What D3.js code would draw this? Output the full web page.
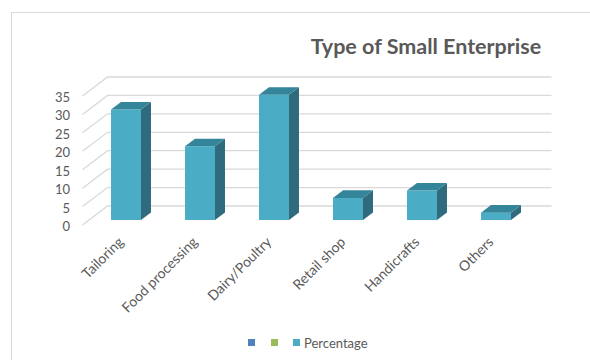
<!DOCTYPE html>
<html><head><meta charset="utf-8">
<script src="https://cdn.jsdelivr.net/npm/d3@7"></script>
<style>
html,body{margin:0;padding:0;background:#fff;}
svg{display:block;font-family:Lato,"Open Sans",sans-serif;}
</style></head>
<body>
<svg id="chart" width="590" height="360"></svg>
<script>
const title = "Type of Small Enterprise";
const categories = ["Tailoring","Food processing","Dairy/Poultry","Retail shop","Handicrafts","Others"];
const percentage = [30, 20, 34, 6, 8, 2];
const yTicks = [0, 5, 10, 15, 20, 25, 30, 35];
const legendNames = ["", "", "Percentage"];
const legendColors = ["#4F81BD", "#9BBB59", "#4BACC6"];

const svg = d3.select("#chart");
const textColor = "#595959";

// chart border
svg.append("path").attr("d", "M11.5,362 V12.5 H592")
  .attr("fill", "none").attr("stroke", "#d9d9d9").attr("stroke-width", 1);

// 3D projection frame
const ox = 82.5, oy = 225;          // front-left corner of floor
const depthDX = 25, depthDY = -19;  // depth vector
const plotW = 444;
const y = d3.scaleLinear().domain([0, 35]).range([0, 129]);
const x = d3.scaleBand().domain(categories).range([0, plotW])
  .paddingInner(0.595).paddingOuter(0.2975);
const P = (px, v, z) => [ox + px + depthDX * z, oy - y(v) + depthDY * z];

const grid = svg.append("g");
yTicks.forEach(t => {
  const a = P(0, t, 0), b = P(0, t, 1), c = P(plotW, t, 1);
  grid.append("path")
    .attr("d", `M${a[0]},${a[1]} L${b[0]},${b[1]} L${c[0]},${c[1]}`)
    .attr("fill", "none").attr("stroke", "#d9d9d9").attr("stroke-width", 1.3);
  svg.append("text").attr("x", 70).attr("y", a[1] + 1)
    .attr("text-anchor", "end").attr("dominant-baseline", "central")
    .attr("fill", textColor).attr("font-size", 13).text(t);
});

// bars
const zf = 0.26, zb = 0.66;
const bars = svg.append("g");
categories.forEach((cat, i) => {
  const v = percentage[i];
  const x0 = x(cat), x1 = x(cat) + x.bandwidth();
  const fbl = P(x0, 0, zf), fbr = P(x1, 0, zf), ftl = P(x0, v, zf), ftr = P(x1, v, zf);
  const bbr = P(x1, 0, zb), btl = P(x0, v, zb), btr = P(x1, v, zb);
  const poly = pts => "M" + pts.map(p => p.join(",")).join("L") + "Z";
  bars.append("path").attr("d", poly([fbl, fbr, ftr, ftl])).attr("fill", "#4BACC6");
  bars.append("path").attr("d", poly([fbr, bbr, btr, ftr])).attr("fill", "#2F6B7C");
  bars.append("path").attr("d", poly([ftl, ftr, btr, btl])).attr("fill", "#35859A");
});

// category labels
categories.forEach(cat => {
  const cx = ox + x(cat) + x.bandwidth() / 2 + 1;
  svg.append("text")
    .attr("transform", `translate(${cx},${239}) rotate(-45)`)
    .attr("text-anchor", "end").attr("dominant-baseline", "central")
    .attr("fill", textColor).attr("font-size", 14).text(cat);
});

// title
svg.append("text").attr("x", 426).attr("y", 54).attr("text-anchor", "middle")
  .attr("fill", textColor).attr("font-size", 21.5).attr("font-weight", "bold").text(title);

// legend
const lg = svg.append("g");
const lx = [248, 271, 293];
legendNames.forEach((n, i) => {
  lg.append("rect").attr("x", lx[i]).attr("y", 339).attr("width", 7).attr("height", 7)
    .attr("fill", legendColors[i]);
  if (n) lg.append("text").attr("x", lx[i] + 11).attr("y", 343)
    .attr("dominant-baseline", "central").attr("fill", textColor)
    .attr("font-size", 13).text(n);
});
</script>
</body></html>
